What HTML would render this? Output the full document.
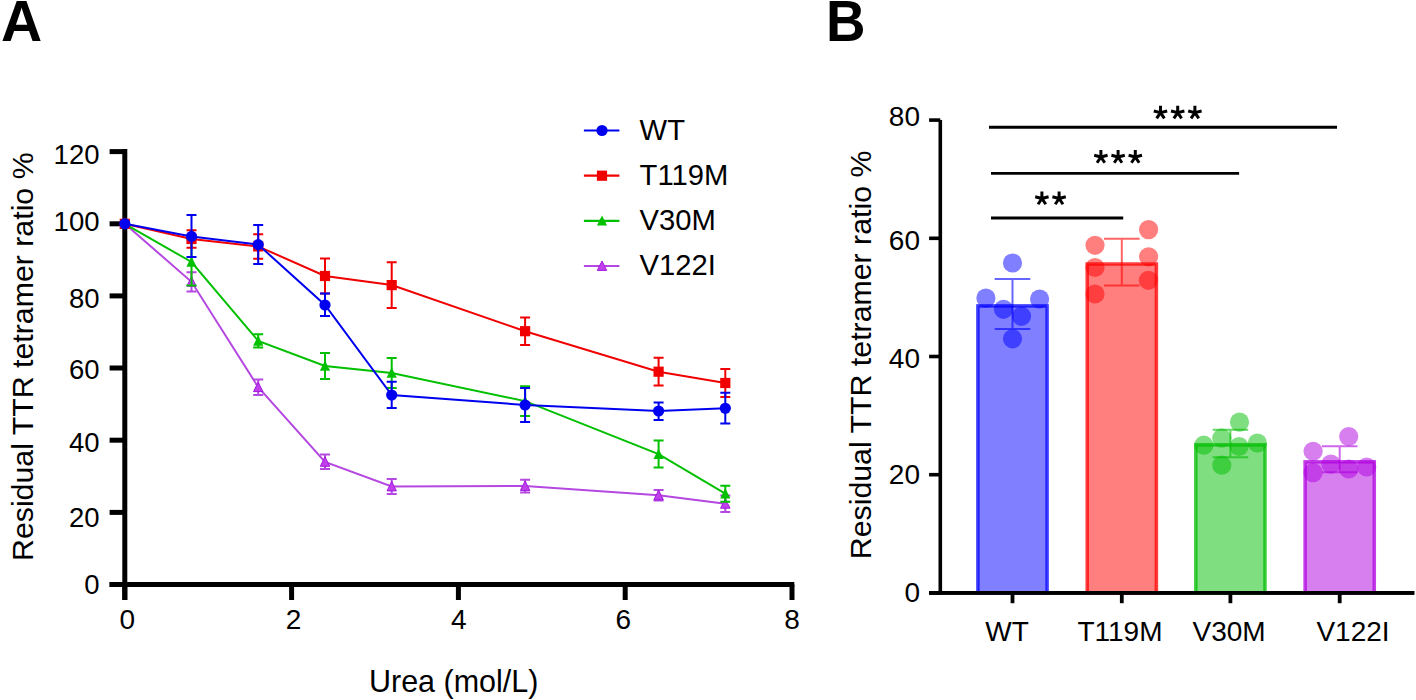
<!DOCTYPE html><html><head><meta charset="utf-8"><style>html,body{margin:0;padding:0;background:#fff;}svg{display:block;}text{font-family:"Liberation Sans",sans-serif;}</style></head><body>
<svg width="1416" height="700" viewBox="0 0 1416 700">
<rect width="1416" height="700" fill="#fff"/>
<text x="1" y="41" font-size="57" font-weight="bold" fill="#000">A</text>
<line x1="124.8" y1="149.1" x2="124.8" y2="600" stroke="#000" stroke-width="5"/>
<line x1="109.6" y1="584.5" x2="794.3" y2="584.5" stroke="#000" stroke-width="5"/>
<line x1="109.6" y1="584.5" x2="124.8" y2="584.5" stroke="#000" stroke-width="5"/>
<text x="99.5" y="594.0" font-size="27.5" text-anchor="end" fill="#000">0</text>
<line x1="109.6" y1="512.4" x2="124.8" y2="512.4" stroke="#000" stroke-width="5"/>
<text x="99.5" y="527.4" font-size="27.5" text-anchor="end" fill="#000">20</text>
<line x1="109.6" y1="440.2" x2="124.8" y2="440.2" stroke="#000" stroke-width="5"/>
<text x="99.5" y="452.2" font-size="27.5" text-anchor="end" fill="#000">40</text>
<line x1="109.6" y1="368.0" x2="124.8" y2="368.0" stroke="#000" stroke-width="5"/>
<text x="99.5" y="379.0" font-size="27.5" text-anchor="end" fill="#000">60</text>
<line x1="109.6" y1="295.9" x2="124.8" y2="295.9" stroke="#000" stroke-width="5"/>
<text x="99.5" y="308.4" font-size="27.5" text-anchor="end" fill="#000">80</text>
<line x1="109.6" y1="223.8" x2="124.8" y2="223.8" stroke="#000" stroke-width="5"/>
<text x="99.5" y="230.8" font-size="27.5" text-anchor="end" fill="#000">100</text>
<line x1="109.6" y1="151.6" x2="124.8" y2="151.6" stroke="#000" stroke-width="5"/>
<text x="99.5" y="163.6" font-size="27.5" text-anchor="end" fill="#000">120</text>
<line x1="124.8" y1="584.5" x2="124.8" y2="600" stroke="#000" stroke-width="5"/>
<text x="127.3" y="629" font-size="28" text-anchor="middle" fill="#000">0</text>
<line x1="291.6" y1="584.5" x2="291.6" y2="600" stroke="#000" stroke-width="5"/>
<text x="293.6" y="629" font-size="28" text-anchor="middle" fill="#000">2</text>
<line x1="458.4" y1="584.5" x2="458.4" y2="600" stroke="#000" stroke-width="5"/>
<text x="458.9" y="629" font-size="28" text-anchor="middle" fill="#000">4</text>
<line x1="625.2" y1="584.5" x2="625.2" y2="600" stroke="#000" stroke-width="5"/>
<text x="623.2" y="629" font-size="28" text-anchor="middle" fill="#000">6</text>
<line x1="792.0" y1="584.5" x2="792.0" y2="600" stroke="#000" stroke-width="5"/>
<text x="792.0" y="629" font-size="28" text-anchor="middle" fill="#000">8</text>
<text x="453.7" y="692" font-size="30.5" text-anchor="middle" fill="#000">Urea (mol/L)</text>
<text transform="translate(33,561) rotate(-90)" x="0" y="0" font-size="30.3" fill="#000">Residual TTR tetramer ratio %</text>
<polyline points="124.8,223.8 191.5,281.8 258.2,387.2 325.0,461.9 391.7,486.5 525.1,486.0 658.6,495.3 725.3,503.8" fill="none" stroke="#b448e0" stroke-width="2"/>
<path d="M191.5,272.2V291.4M186.5,272.2H196.5M186.5,291.4H196.5" stroke="#b448e0" stroke-width="2" fill="none"/>
<path d="M258.2,379.4V395.0M253.2,379.4H263.2M253.2,395.0H263.2" stroke="#b448e0" stroke-width="2" fill="none"/>
<path d="M325.0,454.6V469.1M320.0,454.6H330.0M320.0,469.1H330.0" stroke="#b448e0" stroke-width="2" fill="none"/>
<path d="M391.7,478.9V494.0M386.7,478.9H396.7M386.7,494.0H396.7" stroke="#b448e0" stroke-width="2" fill="none"/>
<path d="M525.1,479.7V492.4M520.1,479.7H530.1M520.1,492.4H530.1" stroke="#b448e0" stroke-width="2" fill="none"/>
<path d="M658.6,490.0V500.6M653.6,490.0H663.6M653.6,500.6H663.6" stroke="#b448e0" stroke-width="2" fill="none"/>
<path d="M725.3,495.4V512.1M720.3,495.4H730.3M720.3,512.1H730.3" stroke="#b448e0" stroke-width="2" fill="none"/>
<path d="M124.8,218.8L129.5,228.2L120.1,228.2Z" fill="#c040ec" stroke="#a418e0" stroke-width="1"/>
<path d="M191.5,276.8L196.2,286.2L186.8,286.2Z" fill="#c040ec" stroke="#a418e0" stroke-width="1"/>
<path d="M258.2,382.2L262.9,391.6L253.5,391.6Z" fill="#c040ec" stroke="#a418e0" stroke-width="1"/>
<path d="M325.0,456.9L329.7,466.3L320.3,466.3Z" fill="#c040ec" stroke="#a418e0" stroke-width="1"/>
<path d="M391.7,481.5L396.4,490.9L387.0,490.9Z" fill="#c040ec" stroke="#a418e0" stroke-width="1"/>
<path d="M525.1,481.0L529.8,490.4L520.4,490.4Z" fill="#c040ec" stroke="#a418e0" stroke-width="1"/>
<path d="M658.6,490.3L663.3,499.7L653.9,499.7Z" fill="#c040ec" stroke="#a418e0" stroke-width="1"/>
<path d="M725.3,498.8L730.0,508.2L720.6,508.2Z" fill="#c040ec" stroke="#a418e0" stroke-width="1"/>
<polyline points="124.8,223.8 191.5,262.0 258.2,340.9 325.0,365.9 391.7,373.0 525.1,401.1 658.6,454.1 725.3,493.7" fill="none" stroke="#00c000" stroke-width="2"/>
<path d="M191.5,238.6V285.4M186.5,238.6H196.5M186.5,285.4H196.5" stroke="#00c000" stroke-width="2" fill="none"/>
<path d="M258.2,334.3V347.4M253.2,334.3H263.2M253.2,347.4H263.2" stroke="#00c000" stroke-width="2" fill="none"/>
<path d="M325.0,352.9V378.9M320.0,352.9H330.0M320.0,378.9H330.0" stroke="#00c000" stroke-width="2" fill="none"/>
<path d="M391.7,358.0V388.0M386.7,358.0H396.7M386.7,388.0H396.7" stroke="#00c000" stroke-width="2" fill="none"/>
<path d="M525.1,386.3V416.0M520.1,386.3H530.1M520.1,416.0H530.1" stroke="#00c000" stroke-width="2" fill="none"/>
<path d="M658.6,440.6V467.6M653.6,440.6H663.6M653.6,467.6H663.6" stroke="#00c000" stroke-width="2" fill="none"/>
<path d="M725.3,485.7V501.8M720.3,485.7H730.3M720.3,501.8H730.3" stroke="#00c000" stroke-width="2" fill="none"/>
<path d="M124.8,218.4L129.9,228.6L119.7,228.6Z" fill="#00c000"/>
<path d="M191.5,256.6L196.6,266.8L186.4,266.8Z" fill="#00c000"/>
<path d="M258.2,335.5L263.3,345.7L253.1,345.7Z" fill="#00c000"/>
<path d="M325.0,360.5L330.1,370.7L319.9,370.7Z" fill="#00c000"/>
<path d="M391.7,367.6L396.8,377.8L386.6,377.8Z" fill="#00c000"/>
<path d="M525.1,395.7L530.2,405.9L520.0,405.9Z" fill="#00c000"/>
<path d="M658.6,448.7L663.7,458.9L653.5,458.9Z" fill="#00c000"/>
<path d="M725.3,488.3L730.4,498.5L720.2,498.5Z" fill="#00c000"/>
<polyline points="124.8,223.8 191.5,239.0 258.2,246.4 325.0,276.0 391.7,285.1 525.1,331.2 658.6,371.7 725.3,383.0" fill="none" stroke="#f00000" stroke-width="2"/>
<path d="M191.5,230.3V247.8M186.5,230.3H196.5M186.5,247.8H196.5" stroke="#f00000" stroke-width="2" fill="none"/>
<path d="M258.2,234.2V258.7M253.2,234.2H263.2M253.2,258.7H263.2" stroke="#f00000" stroke-width="2" fill="none"/>
<path d="M325.0,258.6V293.4M320.0,258.6H330.0M320.0,293.4H330.0" stroke="#f00000" stroke-width="2" fill="none"/>
<path d="M391.7,262.3V308.0M386.7,262.3H396.7M386.7,308.0H396.7" stroke="#f00000" stroke-width="2" fill="none"/>
<path d="M525.1,317.4V344.9M520.1,317.4H530.1M520.1,344.9H530.1" stroke="#f00000" stroke-width="2" fill="none"/>
<path d="M658.6,357.8V385.5M653.6,357.8H663.6M653.6,385.5H663.6" stroke="#f00000" stroke-width="2" fill="none"/>
<path d="M725.3,369.0V397.0M720.3,369.0H730.3M720.3,397.0H730.3" stroke="#f00000" stroke-width="2" fill="none"/>
<rect x="119.7" y="218.7" width="10.2" height="10.2" fill="#f00000"/>
<rect x="186.4" y="233.9" width="10.2" height="10.2" fill="#f00000"/>
<rect x="253.1" y="241.3" width="10.2" height="10.2" fill="#f00000"/>
<rect x="319.9" y="270.9" width="10.2" height="10.2" fill="#f00000"/>
<rect x="386.6" y="280.0" width="10.2" height="10.2" fill="#f00000"/>
<rect x="520.0" y="326.1" width="10.2" height="10.2" fill="#f00000"/>
<rect x="653.5" y="366.6" width="10.2" height="10.2" fill="#f00000"/>
<rect x="720.2" y="377.9" width="10.2" height="10.2" fill="#f00000"/>
<polyline points="124.8,223.8 191.5,236.4 258.2,244.6 325.0,305.0 391.7,395.0 525.1,405.0 658.6,411.0 725.3,408.3" fill="none" stroke="#0000f0" stroke-width="2"/>
<path d="M191.5,215.0V256.9M186.5,215.0H196.5M186.5,256.9H196.5" stroke="#0000f0" stroke-width="2" fill="none"/>
<path d="M258.2,225.0V264.1M253.2,225.0H263.2M253.2,264.1H263.2" stroke="#0000f0" stroke-width="2" fill="none"/>
<path d="M325.0,293.4V316.0M320.0,293.4H330.0M320.0,316.0H330.0" stroke="#0000f0" stroke-width="2" fill="none"/>
<path d="M391.7,381.8V408.0M386.7,381.8H396.7M386.7,408.0H396.7" stroke="#0000f0" stroke-width="2" fill="none"/>
<path d="M525.1,388.0V422.0M520.1,388.0H530.1M520.1,422.0H530.1" stroke="#0000f0" stroke-width="2" fill="none"/>
<path d="M658.6,402.4V420.0M653.6,402.4H663.6M653.6,420.0H663.6" stroke="#0000f0" stroke-width="2" fill="none"/>
<path d="M725.3,392.8V423.5M720.3,392.8H730.3M720.3,423.5H730.3" stroke="#0000f0" stroke-width="2" fill="none"/>
<circle cx="124.8" cy="223.8" r="5.6" fill="#0000f0"/>
<circle cx="191.5" cy="236.4" r="5.6" fill="#0000f0"/>
<circle cx="258.2" cy="244.6" r="5.6" fill="#0000f0"/>
<circle cx="325.0" cy="305.0" r="5.6" fill="#0000f0"/>
<circle cx="391.7" cy="395.0" r="5.6" fill="#0000f0"/>
<circle cx="525.1" cy="405.0" r="5.6" fill="#0000f0"/>
<circle cx="658.6" cy="411.0" r="5.6" fill="#0000f0"/>
<circle cx="725.3" cy="408.3" r="5.6" fill="#0000f0"/>
<line x1="583.9" y1="130.5" x2="619.4" y2="130.5" stroke="#0000f0" stroke-width="2.2"/>
<circle cx="602.0" cy="130.5" r="5.6" fill="#0000f0"/>
<text x="639.6" y="140.1" font-size="29.2" fill="#000">WT</text>
<line x1="583.9" y1="175.7" x2="619.4" y2="175.7" stroke="#f00000" stroke-width="2.2"/>
<rect x="596.9" y="170.6" width="10.2" height="10.2" fill="#f00000"/>
<text x="639.6" y="185.1" font-size="29.2" fill="#000">T119M</text>
<line x1="583.9" y1="220.8" x2="619.4" y2="220.8" stroke="#00c000" stroke-width="2.2"/>
<path d="M602.0,215.4L607.1,225.6L596.9,225.6Z" fill="#00c000"/>
<text x="639.6" y="230.0" font-size="29.2" fill="#000">V30M</text>
<line x1="583.9" y1="266.0" x2="619.4" y2="266.0" stroke="#b448e0" stroke-width="2.2"/>
<path d="M602.0,261.0L606.7,270.4L597.3,270.4Z" fill="#c040ec" stroke="#a418e0" stroke-width="1"/>
<text x="639.6" y="275.0" font-size="29.2" fill="#000">V122I</text>
<text transform="translate(826,41) scale(0.96,1)" x="0" y="0" font-size="57" font-weight="bold" fill="#000">B</text>
<line x1="940.3" y1="120.1" x2="940.3" y2="592.9" stroke="#000" stroke-width="3.6"/>
<line x1="929.1" y1="592.9" x2="1414.3" y2="592.9" stroke="#000" stroke-width="3.6"/>
<line x1="929.1" y1="592.9" x2="940.3" y2="592.9" stroke="#000" stroke-width="3.6"/>
<text x="920" y="601.5" font-size="28" text-anchor="end" fill="#000">0</text>
<line x1="929.1" y1="474.7" x2="940.3" y2="474.7" stroke="#000" stroke-width="3.6"/>
<text x="920" y="484.0" font-size="28" text-anchor="end" fill="#000">20</text>
<line x1="929.1" y1="356.5" x2="940.3" y2="356.5" stroke="#000" stroke-width="3.6"/>
<text x="920" y="368.0" font-size="28" text-anchor="end" fill="#000">40</text>
<line x1="929.1" y1="238.3" x2="940.3" y2="238.3" stroke="#000" stroke-width="3.6"/>
<text x="920" y="249.6" font-size="28" text-anchor="end" fill="#000">60</text>
<line x1="929.1" y1="120.1" x2="940.3" y2="120.1" stroke="#000" stroke-width="3.6"/>
<text x="920" y="126.4" font-size="28" text-anchor="end" fill="#000">80</text>
<text transform="translate(871,559.2) rotate(-90)" x="0" y="0" font-size="30.3" fill="#000">Residual TTR tetramer ratio %</text>
<rect x="977.9" y="305.9" width="69.2" height="287.0" fill="rgba(0,0,255,0.5)" stroke="rgba(0,0,255,0.75)" stroke-width="3.5"/>
<circle cx="1012.5" cy="263" r="9.6" fill="rgba(0,0,255,0.5)"/>
<circle cx="985.9" cy="298.1" r="9.6" fill="rgba(0,0,255,0.5)"/>
<circle cx="1039.6" cy="299" r="9.6" fill="rgba(0,0,255,0.5)"/>
<circle cx="1003.5" cy="309.3" r="9.6" fill="rgba(0,0,255,0.5)"/>
<circle cx="1021.5" cy="316.3" r="9.6" fill="rgba(0,0,255,0.5)"/>
<circle cx="1012.5" cy="338.8" r="9.6" fill="rgba(0,0,255,0.5)"/>
<path d="M1012.5,279.1V328.9M994.7,279.1H1030.3M994.7,328.9H1030.3" stroke="rgba(0,0,255,0.6)" stroke-width="2" fill="none"/>
<line x1="1012.5" y1="592.9" x2="1012.5" y2="603.2" stroke="#000" stroke-width="3.8"/>
<text x="1007" y="641.2" font-size="28" text-anchor="middle" fill="#000">WT</text>
<rect x="1087.2" y="264.0" width="69.2" height="328.9" fill="rgba(255,0,0,0.5)" stroke="rgba(255,0,0,0.75)" stroke-width="3.5"/>
<circle cx="1095" cy="245.3" r="9.6" fill="rgba(255,0,0,0.5)"/>
<circle cx="1095" cy="267.5" r="9.6" fill="rgba(255,0,0,0.5)"/>
<circle cx="1095" cy="294" r="9.6" fill="rgba(255,0,0,0.5)"/>
<circle cx="1148.6" cy="229.6" r="9.6" fill="rgba(255,0,0,0.5)"/>
<circle cx="1148.6" cy="256.8" r="9.6" fill="rgba(255,0,0,0.5)"/>
<circle cx="1148.4" cy="280.3" r="9.6" fill="rgba(255,0,0,0.5)"/>
<path d="M1121.8,238.8V285.5M1104.0,238.8H1139.6M1104.0,285.5H1139.6" stroke="rgba(255,0,0,0.6)" stroke-width="2" fill="none"/>
<line x1="1121.8" y1="592.9" x2="1121.8" y2="603.2" stroke="#000" stroke-width="3.8"/>
<text x="1120" y="641.2" font-size="28" text-anchor="middle" fill="#000">T119M</text>
<rect x="1195.8" y="444.8" width="69.2" height="148.1" fill="rgba(0,190,0,0.5)" stroke="rgba(0,190,0,0.75)" stroke-width="3.5"/>
<circle cx="1203.8" cy="445.2" r="9.6" fill="rgba(0,190,0,0.5)"/>
<circle cx="1221.8" cy="438.2" r="9.6" fill="rgba(0,190,0,0.5)"/>
<circle cx="1239.5" cy="422.1" r="9.6" fill="rgba(0,190,0,0.5)"/>
<circle cx="1239.1" cy="446.5" r="9.6" fill="rgba(0,190,0,0.5)"/>
<circle cx="1257.4" cy="443" r="9.6" fill="rgba(0,190,0,0.5)"/>
<circle cx="1221.8" cy="465.2" r="9.6" fill="rgba(0,190,0,0.5)"/>
<path d="M1230.4,429.8V457.2M1212.6,429.8H1248.2M1212.6,457.2H1248.2" stroke="rgba(0,190,0,0.6)" stroke-width="2" fill="none"/>
<line x1="1230.4" y1="592.9" x2="1230.4" y2="603.2" stroke="#000" stroke-width="3.8"/>
<text x="1229.1" y="641.2" font-size="28" text-anchor="middle" fill="#000">V30M</text>
<rect x="1305.1" y="461.8" width="69.2" height="131.1" fill="rgba(176,0,224,0.5)" stroke="rgba(176,0,224,0.75)" stroke-width="3.5"/>
<circle cx="1313.1" cy="451.3" r="9.6" fill="rgba(176,0,224,0.5)"/>
<circle cx="1313" cy="472.6" r="9.6" fill="rgba(176,0,224,0.5)"/>
<circle cx="1330.9" cy="464.1" r="9.6" fill="rgba(176,0,224,0.5)"/>
<circle cx="1348.7" cy="436.5" r="9.6" fill="rgba(176,0,224,0.5)"/>
<circle cx="1348.7" cy="469" r="9.6" fill="rgba(176,0,224,0.5)"/>
<circle cx="1366.7" cy="467" r="9.6" fill="rgba(176,0,224,0.5)"/>
<path d="M1339.7,446.2V472.2M1321.9,446.2H1357.5M1321.9,472.2H1357.5" stroke="rgba(176,0,224,0.6)" stroke-width="2" fill="none"/>
<line x1="1339.7" y1="592.9" x2="1339.7" y2="603.2" stroke="#000" stroke-width="3.8"/>
<text x="1353" y="641.2" font-size="28" text-anchor="middle" fill="#000">V122I</text>
<line x1="929.1" y1="592.9" x2="1414.3" y2="592.9" stroke="#000" stroke-width="3.6"/>
<line x1="989" y1="127.3" x2="1337" y2="127.3" stroke="#000" stroke-width="3"/>
<line x1="991" y1="173.3" x2="1239.1" y2="173.3" stroke="#000" stroke-width="2.8"/>
<line x1="991" y1="218" x2="1123.2" y2="218" stroke="#000" stroke-width="2.8"/>
<path d="M1160.50,112.60L1160.50,105.70M1160.50,112.60L1167.20,110.93M1160.50,112.60L1153.80,110.93M1160.50,112.60L1164.36,118.32M1160.50,112.60L1156.64,118.32" stroke="#000" stroke-width="3.0" fill="none"/>
<path d="M1177.70,112.60L1177.70,105.70M1177.70,112.60L1184.40,110.93M1177.70,112.60L1171.00,110.93M1177.70,112.60L1181.56,118.32M1177.70,112.60L1173.84,118.32" stroke="#000" stroke-width="3.0" fill="none"/>
<path d="M1194.90,112.60L1194.90,105.70M1194.90,112.60L1201.60,110.93M1194.90,112.60L1188.20,110.93M1194.90,112.60L1198.76,118.32M1194.90,112.60L1191.04,118.32" stroke="#000" stroke-width="3.0" fill="none"/>
<path d="M1100.90,157.00L1100.90,150.10M1100.90,157.00L1107.60,155.33M1100.90,157.00L1094.20,155.33M1100.90,157.00L1104.76,162.72M1100.90,157.00L1097.04,162.72" stroke="#000" stroke-width="3.0" fill="none"/>
<path d="M1118.10,157.00L1118.10,150.10M1118.10,157.00L1124.80,155.33M1118.10,157.00L1111.40,155.33M1118.10,157.00L1121.96,162.72M1118.10,157.00L1114.24,162.72" stroke="#000" stroke-width="3.0" fill="none"/>
<path d="M1135.30,157.00L1135.30,150.10M1135.30,157.00L1142.00,155.33M1135.30,157.00L1128.60,155.33M1135.30,157.00L1139.16,162.72M1135.30,157.00L1131.44,162.72" stroke="#000" stroke-width="3.0" fill="none"/>
<path d="M1041.90,198.50L1041.90,191.60M1041.90,198.50L1048.60,196.83M1041.90,198.50L1035.20,196.83M1041.90,198.50L1045.76,204.22M1041.90,198.50L1038.04,204.22" stroke="#000" stroke-width="3.0" fill="none"/>
<path d="M1059.10,198.50L1059.10,191.60M1059.10,198.50L1065.80,196.83M1059.10,198.50L1052.40,196.83M1059.10,198.50L1062.96,204.22M1059.10,198.50L1055.24,204.22" stroke="#000" stroke-width="3.0" fill="none"/>
</svg></body></html>
